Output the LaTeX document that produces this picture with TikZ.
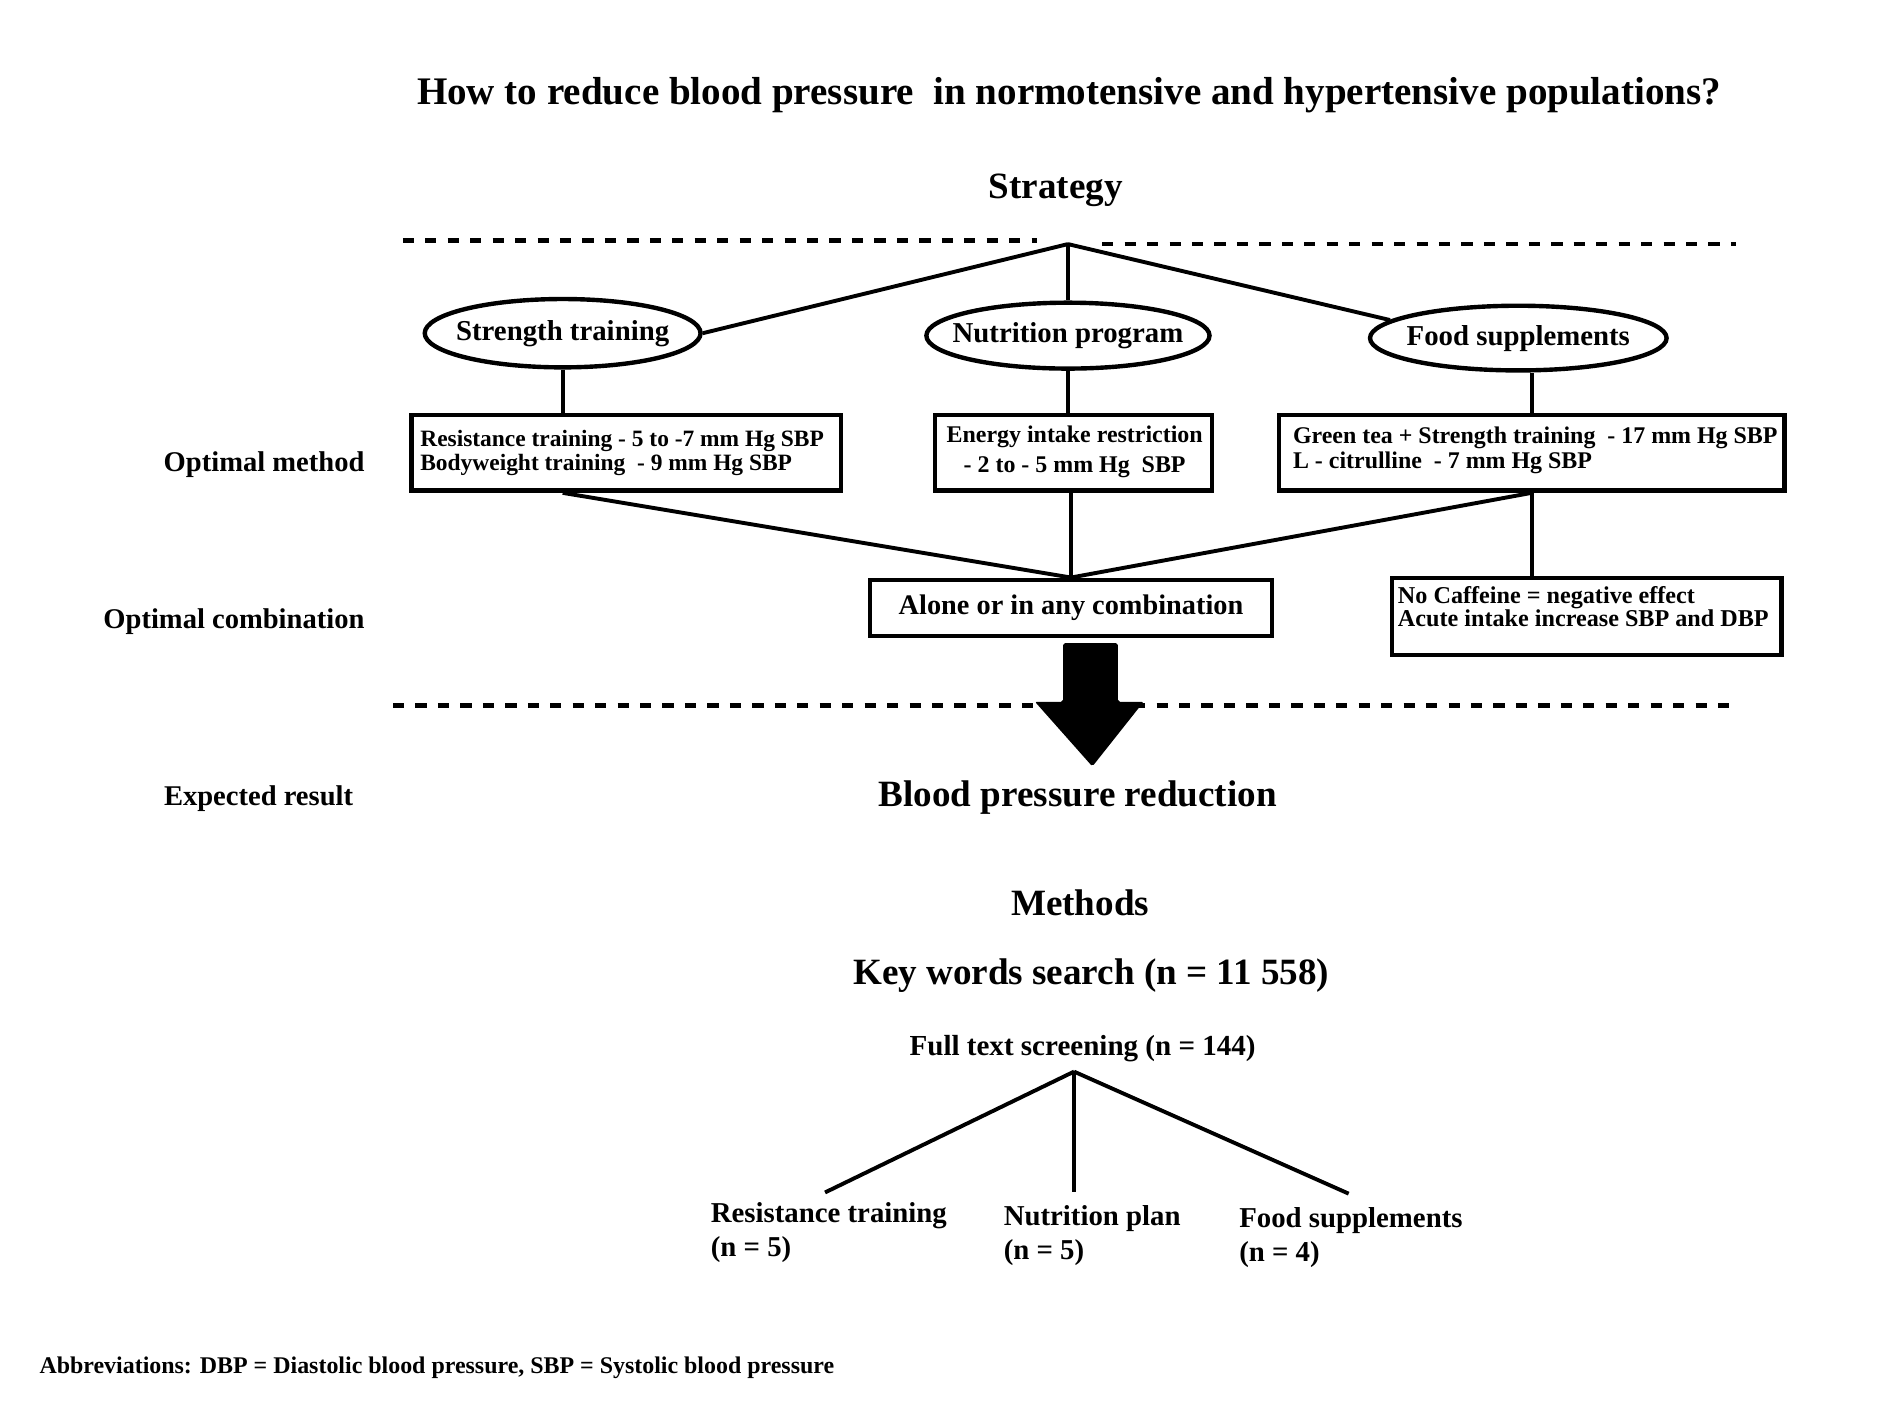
\documentclass[tikz,border=0pt]{standalone}
\usepackage{fontspec}
\setmainfont{Liberation Serif}
\usetikzlibrary{shapes.geometric}
\tikzset{
  lbl/.style={inner sep=0pt, font=\bfseries\fontsize{11.7}{14}\selectfont},
  big/.style={inner sep=0pt, font=\bfseries\fontsize{15.2}{18}\selectfont},
  oval/.style={ellipse, draw, line width=1.8pt, inner sep=0pt, font=\bfseries\fontsize{11.8}{14}\selectfont},
  infobox/.style={draw, line width=1.8pt, inner sep=0pt},
  boxtext/.style={inner sep=0pt, anchor=north west, align=left, font=\bfseries\fontsize{9.6}{9.9}\selectfont},
  conn/.style={line width=1.6pt},
  sepline/.style={line width=1.75pt, dash pattern=on 4.6pt off 4.6pt},
}
\begin{document}
\begin{tikzpicture}[x=0.5pt, y=-0.5pt]
\useasboundingbox (0,0) rectangle (1560,1160);

% title
\node[inner sep=0pt, font=\bfseries\fontsize{16}{19}\selectfont, anchor=base] (title) at (876,86)
  {How to reduce blood pressure\ \ in normotensive and hypertensive populations?};
\node[big, anchor=base] (strategy) at (865,163) {Strategy};

% separators
\draw[sepline] (330,197) -- (850,197);
\draw[sepline] (903,200) -- (1422,200);
\coordinate (apex) at (875,200);

% strategies
\node[oval, minimum width=113pt, minimum height=28pt] (st) at (461,273) {\makebox[0pt]{Strength training}};
\node[oval, minimum width=116pt, minimum height=27pt] (np) at (875,275) {\makebox[0pt]{Nutrition program}};
\node[oval, minimum width=121.5pt, minimum height=26.5pt] (fs) at (1244,277) {\makebox[0pt]{Food supplements}};

\draw[conn] (apex) -- (st.east);
\draw[conn] (apex) -- (np.north);
\draw[conn] (apex) -- (fs.172);

% optimal method boxes
\node[infobox, minimum width=176pt, minimum height=31pt] (b1) at (513,371) {};
\node[boxtext] (b1t) at (344,352)
  {Resistance training - 5 to -7 mm Hg SBP\\Bodyweight training\ \ - 9 mm Hg SBP};
\node[infobox, minimum width=113.5pt, minimum height=31pt] (b2) at (879.5,371) {};
\node[boxtext, anchor=north, align=center, font=\bfseries\fontsize{9.8}{12.5}\selectfont] (b2t) at (880.5,348.5)
  {Energy intake restriction\\- 2 to - 5 mm Hg\ \ SBP};
\node[infobox, minimum width=207pt, minimum height=31pt] (b3) at (1255,371) {};
\node[boxtext, font=\bfseries\fontsize{9.8}{10}\selectfont] (b3t) at (1059,349.5)
  {Green tea + Strength training\ \ - 17 mm Hg SBP\\L - citrulline\ \ - 7 mm Hg SBP};

\draw[conn] (st.south) -- (st.south |- b1.north);
\draw[conn] (np.south) -- (np.south |- b2.north);
\draw[conn] (b3.north) -- (b3.north |- fs.south);

\node[lbl, anchor=base east] (om) at (299,386) {Optimal method};

% combination
\node[infobox, font=\bfseries\fontsize{11.6}{14}\selectfont, minimum width=164.5pt, minimum height=23pt] (al) at (877.5,498)
  {Alone or in any combination};
\node[infobox, minimum width=159.5pt, minimum height=31.5pt] (cf) at (1300,505) {};
\node[boxtext, font=\bfseries\fontsize{9.9}{9.4}\selectfont] (cft) at (1145,480.5)
  {No Caffeine = negative effect\\Acute intake increase SBP and DBP};

\draw[conn] (st.south |- b1.south) -- (al.north);
\draw[conn] (al.north |- b2.south) -- (al.north);
\draw[conn] (b3.south) -- (al.north);
\draw[conn] (b3.south) -- (b3.south |- cf.north);

\node[lbl, anchor=base east] (oc) at (299,515) {Optimal combination};

% second separator and arrow
\draw[sepline] (322,578) -- (1425,578);
\fill[rounded corners=0.8pt] (871,527) -- (916,527) -- (916,575) -- (937,575) -- (895,628) -- (848,575) -- (871,575) -- cycle;

% expected result
\node[lbl, anchor=base west] (er) at (134,660) {Expected result};
\node[big, anchor=base] (bpr) at (883,661) {Blood pressure reduction};

% methods
\node[big, anchor=base] (meth) at (885,750) {Methods};
\node[big, anchor=base] (kw) at (894,807) {Key words search (n = 11 558)};
\node[lbl, font=\bfseries\fontsize{11.9}{14}\selectfont, anchor=base] (fts) at (887,865) {Full text screening (n = 144)};

\coordinate (t0) at (880,878);
\coordinate (t1) at (676,977);
\coordinate (t2) at (880,977);
\coordinate (t3) at (1105,978);
\draw[conn] (t0) -- (t1);
\draw[conn] (t0) -- (t2);
\draw[conn] (t0) -- (t3);

\node[lbl, font=\bfseries\fontsize{11.8}{14}\selectfont, anchor=north west, align=left] (rt) at (582,985) {Resistance training\\(n = 5)};
\node[lbl, font=\bfseries\fontsize{11.8}{14}\selectfont, anchor=north west, align=left] (npl) at (822,987) {Nutrition plan\\(n = 5)};
\node[lbl, font=\bfseries\fontsize{11.8}{14}\selectfont, anchor=north west, align=left] (fsl) at (1015,989) {Food supplements\\(n = 4)};

\node[inner sep=0pt, font=\bfseries\fontsize{9.8}{12}\selectfont, anchor=base west] (abbr) at (32,1125)
  {Abbreviations: DBP = Diastolic blood pressure, SBP = Systolic blood pressure};
\end{tikzpicture}
\end{document}
